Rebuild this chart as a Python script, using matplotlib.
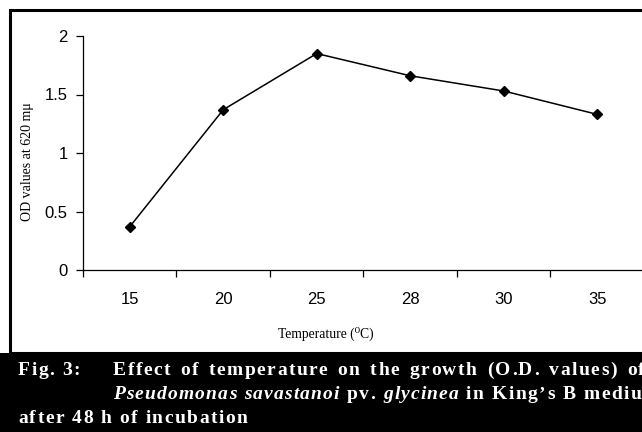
import matplotlib
matplotlib.use("Agg")
import matplotlib.pyplot as plt
from matplotlib.patches import Rectangle
from matplotlib.ticker import FixedLocator, NullFormatter, FixedFormatter

# Data
temperatures = ["15", "20", "25", "28", "30", "35"]
od_values = [0.37, 1.37, 1.85, 1.66, 1.53, 1.33]
y_ticks = [0, 0.5, 1, 1.5, 2]
y_tick_labels = ["0", "0.5", "1", "1.5", "2"]

W, H = 642, 432
fig = plt.figure(figsize=(W / 100, H / 100), dpi=100)
fig.patch.set_facecolor("white")

def fx(px):
    return px / W

def fy(py):
    return 1 - py / H

# Chart box border
box = Rectangle((fx(10), fy(353)), fx(700) - fx(10), fy(10) - fy(353),
                transform=fig.transFigure, fill=False, edgecolor="black",
                linewidth=2.2, zorder=0)
fig.patches.append(box)

# Caption band
band = Rectangle((0, 0), 1, fy(353), transform=fig.transFigure,
                 facecolor="black", edgecolor="none", zorder=1)
fig.patches.append(band)

# Axes
left, right, top, bottom = 83, 644, 36, 270
ax = fig.add_axes([fx(left), fy(bottom), fx(right) - fx(left), fy(top) - fy(bottom)])
ax.set_facecolor("none")
n = len(temperatures)
xs = [i + 0.5 for i in range(n)]
ax.plot(xs, od_values, color="black", linewidth=1.1, marker="D",
        markersize=5, markerfacecolor="black", markeredgecolor="black",
        clip_on=False)
ax.set_xlim(0, n)
ax.set_ylim(0, 2)
for s in ["top", "right"]:
    ax.spines[s].set_visible(False)
for s in ["left", "bottom"]:
    ax.spines[s].set_linewidth(0.9)

ax.xaxis.set_major_locator(FixedLocator(list(range(n + 1))))
ax.xaxis.set_major_formatter(NullFormatter())
ax.xaxis.set_minor_locator(FixedLocator(xs))
ax.xaxis.set_minor_formatter(FixedFormatter(temperatures))
ax.tick_params(axis="x", which="major", direction="out", length=5, width=0.9)
ax.tick_params(axis="x", which="minor", length=0, pad=16,
               labelsize=12)
ax.set_yticks(y_ticks)
ax.set_yticklabels(y_tick_labels)
ax.tick_params(axis="y", direction="out", length=5, width=0.9, pad=6,
               labelsize=12)
for lab in ax.get_xticklabels(minor=True) + ax.get_yticklabels():
    lab.set_fontfamily("Liberation Sans")

# Axis labels as figure text
fig.text(fx(326), fy(334), "Temperature (\u2070C)", ha="center", va="center",
         fontsize=9.8, family=["Liberation Serif", "DejaVu Serif"])
fig.text(fx(27), fy(162), "OD values at 620 m\u03bc", ha="center", va="center",
         rotation=90, fontsize=10, family=["Liberation Serif", "DejaVu Serif"])

# Caption with letter tracking (justified lines get wider word spaces)
fig.canvas.draw()
renderer = fig.canvas.get_renderer()

def space_width(size, style):
    t2 = fig.text(0, 0, "a a", fontsize=size, family="Liberation Serif",
                  weight="bold", style=style)
    t3 = fig.text(0, 0, "aa", fontsize=size, family="Liberation Serif",
                  weight="bold", style=style)
    w = t2.get_window_extent(renderer=renderer).width - \
        t3.get_window_extent(renderer=renderer).width
    t2.remove(); t3.remove()
    return w

def tracked(x_px, y_px, segments, size=14, tracking=1.5, italic_tracking=1.2,
            extra_space=0.0):
    x = x_px
    for text, style in segments:
        tr = italic_tracking if style == "italic" else tracking
        for ch in text:
            t = fig.text(fx(x), fy(y_px), ch, color="white", fontsize=size,
                         family="Liberation Serif", weight="bold",
                         style=style, ha="left", va="baseline", zorder=5)
            if ch == " ":
                w = space_width(size, style) + extra_space
            else:
                w = t.get_window_extent(renderer=renderer).width
            x += w + tr
    return x

tracked(18, 375, [("Fig. 3:", "normal")])
tracked(113, 375, [("Effect of temperature on the growth (O.D. values) of", "normal")],
        extra_space=2.4)
tracked(113, 399, [("Pseudomonas savastanoi", "italic"), (" pv. ", "normal"),
                   ("glycinea", "italic"), (" in King\u2019s B medium", "normal")])
tracked(18, 423, [("after 48 h of incubation", "normal")])

fig.savefig("out.png", dpi=100)
